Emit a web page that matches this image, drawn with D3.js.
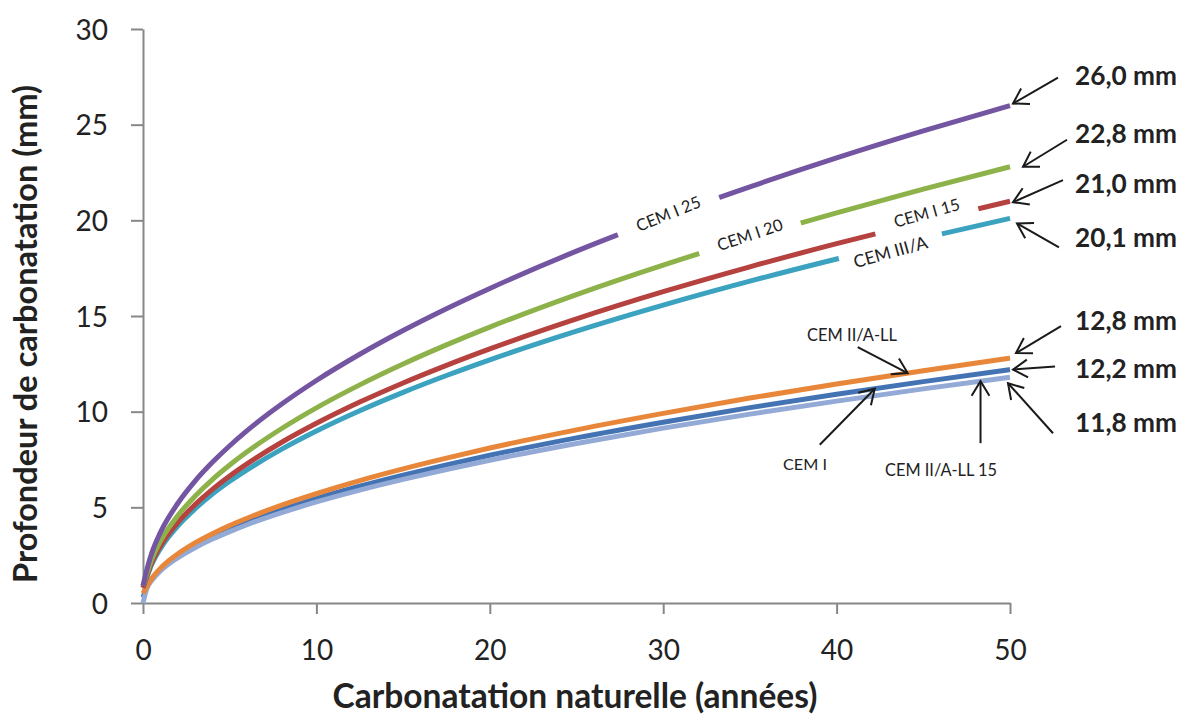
<!DOCTYPE html>
<html><head><meta charset="utf-8">
<script src="https://cdn.jsdelivr.net/npm/d3@7"></script>
<style>body{margin:0;background:#fff}</style>
</head><body><svg id="c" width="1186" height="714"></svg>
<script>
// ---- data ----
const years       = [0, 0.25, 0.5, 1, 2, 3, 4, 5, 6, 8, 10, 12.5, 15, 17.5, 20, 25, 30, 35, 40, 45, 50];
const cemI25      = [0.9, 1.84, 2.60, 3.68, 5.20, 6.37, 7.35, 8.22, 9.01, 10.40, 11.63, 13.00, 14.24, 15.38, 16.44, 18.39, 20.14, 21.75, 23.26, 24.67, 26.00];
const cemI20      = [0.9, 1.61, 2.28, 3.22, 4.56, 5.58, 6.45, 7.21, 7.90, 9.12, 10.20, 11.40, 12.49, 13.49, 14.42, 16.12, 17.66, 19.08, 20.39, 21.63, 22.80];
const cemI15      = [0.8, 1.48, 2.10, 2.97, 4.20, 5.14, 5.94, 6.64, 7.27, 8.40, 9.39, 10.50, 11.50, 12.42, 13.28, 14.85, 16.27, 17.57, 18.78, 19.92, 21.00];
const cemIIIA     = [0.8, 1.42, 2.01, 2.84, 4.02, 4.92, 5.69, 6.36, 6.96, 8.04, 8.99, 10.05, 11.01, 11.89, 12.71, 14.21, 15.57, 16.82, 17.98, 19.07, 20.10];
const cemIIALL    = [0.5, 0.91, 1.28, 1.81, 2.56, 3.14, 3.62, 4.05, 4.43, 5.12, 5.72, 6.40, 7.01, 7.57, 8.10, 9.05, 9.91, 10.71, 11.45, 12.14, 12.80];
const cemI        = [0.3, 0.86, 1.22, 1.73, 2.44, 2.99, 3.45, 3.86, 4.23, 4.88, 5.46, 6.10, 6.68, 7.22, 7.72, 8.63, 9.45, 10.21, 10.91, 11.57, 12.20];
const cemIIALL15  = [0.0, 0.83, 1.18, 1.67, 2.36, 2.89, 3.34, 3.73, 4.09, 4.72, 5.28, 5.90, 6.46, 6.98, 7.46, 8.34, 9.14, 9.87, 10.55, 11.19, 11.80];
const endLabels   = ["26,0 mm", "22,8 mm", "21,0 mm", "20,1 mm", "12,8 mm", "12,2 mm", "11,8 mm"];
const xTicks = [0, 10, 20, 30, 40, 50];
const yTicks = [0, 5, 10, 15, 20, 25, 30];
const xTitle = "Carbonatation naturelle (années)";
const yTitle = "Profondeur de carbonatation (mm)";

// ---- styles / layout ----
const FONT = "Lato, 'Open Sans', sans-serif";
const series = [
  {name:"CEM I",          values:cemI,       color:"#4473b4"},
  {name:"CEM II/A-LL 15", values:cemIIALL15, color:"#93aad6"},
  {name:"CEM II/A-LL",    values:cemIIALL,   color:"#e8873a"},
  {name:"CEM III/A",      values:cemIIIA,    color:"#3ba2bf"},
  {name:"CEM I 15",       values:cemI15,     color:"#b5423f"},
  {name:"CEM I 20",       values:cemI20,     color:"#8eb24a"},
  {name:"CEM I 25",       values:cemI25,     color:"#7455a2"}
];
const byName = Object.fromEntries(series.map(s => [s.name, s]));

const svg = d3.select("#c");
const x = d3.scaleLinear().domain([0, 50]).range([143, 1010]);
const y = d3.scaleLinear().domain([0, 30]).range([603, 29]);

function fit(sel, target){
  const w = sel.node().getComputedTextLength();
  const fs = parseFloat(sel.attr("font-size"));
  sel.attr("font-size", fs * target / w);
}

// axes
const ax = svg.append("g").attr("transform", `translate(0,${y(0)})`)
  .call(d3.axisBottom(x).tickValues(xTicks).tickSize(11).tickSizeOuter(0).tickFormat(d3.format("d")));
const ay = svg.append("g").attr("transform", `translate(${x(0)},0)`)
  .call(d3.axisLeft(y).tickValues(yTicks).tickSize(12).tickSizeOuter(0).tickFormat(d3.format("d")));
[ax, ay].forEach(g => {
  g.selectAll("path.domain, line").attr("stroke", "#878787").attr("stroke-width", 2);
  g.selectAll("text").attr("font-family", FONT).attr("font-size", 28).attr("fill", "#222");
});
ax.selectAll("text").attr("y", 0).attr("dy", 0).attr("transform", "translate(0,57)");
ay.selectAll("text").attr("x", -35).attr("dy", "0.36em");

// lines
const line = d3.line().x((d, i) => x(years[i])).y(d => y(d)).curve(d3.curveMonotoneX);
svg.append("g").selectAll("path").data(series).join("path")
  .attr("d", d => line(d.values)).attr("fill", "none")
  .attr("stroke", d => d.color).attr("stroke-width", 5).attr("stroke-linecap", "butt");

// value interpolation helper
function valAt(vals, t){
  for (let i = 1; i < years.length; i++) {
    if (t <= years[i]) {
      const f = (t - years[i-1]) / (years[i] - years[i-1]);
      return vals[i-1] + f * (vals[i] - vals[i-1]);
    }
  }
  return vals[vals.length-1];
}

// inline rotated labels with white box (creates gap in line)
const inline = [
  {name:"CEM I 25",  t:30.3, w:108, tw:68, off:-2},
  {name:"CEM I 20",  t:35.0, w:106, tw:68, off:-3},
  {name:"CEM I 15",  t:45.2, w:106, tw:68, off:-8},
  {name:"CEM III/A", t:43.1, w:106, tw:76, off:6}
];
const labelGroups = inline.map(L => {
  const v = byName[L.name].values;
  const px = x(L.t), py = y(valAt(v, L.t));
  const ang = Math.atan2(y(valAt(v, L.t + 1)) - y(valAt(v, L.t - 1)), x(L.t + 1) - x(L.t - 1)) * 180 / Math.PI;
  return {L, px, py, ang};
});
labelGroups.forEach(({L, px, py, ang}) => {
  svg.append("rect").attr("transform", `translate(${px},${py}) rotate(${ang})`)
    .attr("x", -L.w/2).attr("y", -9).attr("width", L.w).attr("height", 18).attr("fill", "#fff");
});
labelGroups.forEach(({L, px, py, ang}) => {
  const t = svg.append("text").attr("transform", `translate(${px},${py + L.off}) rotate(${ang - 2})`)
    .attr("text-anchor", "middle").attr("dy", "0.35em")
    .attr("font-family", FONT).attr("font-size", 15).attr("fill", "#222").text(L.name);
  fit(t, L.tw);
});

// arrow helper
function arrow(x1, y1, x2, y2){
  const g = svg.append("g").attr("stroke", "#1a1a1a").attr("stroke-width", 2).attr("fill", "none");
  g.append("line").attr("x1", x1).attr("y1", y1).attr("x2", x2).attr("y2", y2);
  const a = Math.atan2(y1 - y2, x1 - x2), L = 17, s = 0.55;
  g.append("path").attr("d",
    `M${x2 + L*Math.cos(a+s)},${y2 + L*Math.sin(a+s)}L${x2},${y2}L${x2 + L*Math.cos(a-s)},${y2 + L*Math.sin(a-s)}`);
}

// end-value annotations
const endSeries = ["CEM I 25", "CEM I 20", "CEM I 15", "CEM III/A", "CEM II/A-LL", "CEM I", "CEM II/A-LL 15"];
const endLayout = [
  {head:[3,-2],  tail:[48,-28], ty:85},
  {head:[13,0],  tail:[57,-27], ty:143},
  {head:[3,1],   tail:[53,-21], ty:193},
  {head:[7,5],   tail:[49,29],  ty:247},
  {head:[6,-5],  tail:[51,-32], ty:330},
  {head:[3,0],   tail:[45,-3],  ty:378},
  {head:[-2,6],  tail:[43,56],  ty:432}
];
endSeries.forEach((nm, i) => {
  const v = byName[nm].values;
  const ex = x(50), ey = y(v[v.length-1]);
  const L = endLayout[i];
  arrow(ex + L.tail[0], ey + L.tail[1], ex + L.head[0], ey + L.head[1]);
  const t = svg.append("text").attr("x", 1075).attr("y", L.ty)
    .attr("font-family", FONT).attr("font-weight", "bold").attr("font-size", 24).attr("fill", "#222")
    .text(endLabels[i]);
  fit(t, 102);
});

// series-name annotations with arrows
const nameNotes = [
  {name:"CEM II/A-LL",    t:44.1, tail:[-50,-26], tx:852, ty:341, tw:90},
  {name:"CEM I",          t:42.2, tail:[-55,56],  tx:805, ty:470, tw:44},
  {name:"CEM II/A-LL 15", t:48.3, tail:[0,62],    tx:941, ty:476, tw:112}
];
nameNotes.forEach(N => {
  const hx = x(N.t), hy = y(valAt(byName[N.name].values, N.t));
  arrow(hx + N.tail[0], hy + N.tail[1], hx, hy);
  const t = svg.append("text").attr("x", N.tx).attr("y", N.ty).attr("text-anchor", "middle")
    .attr("font-family", FONT).attr("font-size", 15).attr("fill", "#222").text(N.name);
  fit(t, N.tw);
});

// axis titles
const xt = svg.append("text").attr("x", 575).attr("y", 708).attr("text-anchor", "middle")
  .attr("font-family", FONT).attr("font-weight", "bold").attr("font-size", 28).attr("fill", "#222").text(xTitle);
fit(xt, 485);
const yt = svg.append("text").attr("transform", "translate(37,334) rotate(-90)").attr("text-anchor", "middle")
  .attr("font-family", FONT).attr("font-weight", "bold").attr("font-size", 28).attr("fill", "#222").text(yTitle);
fit(yt, 498);
</script></body></html>
